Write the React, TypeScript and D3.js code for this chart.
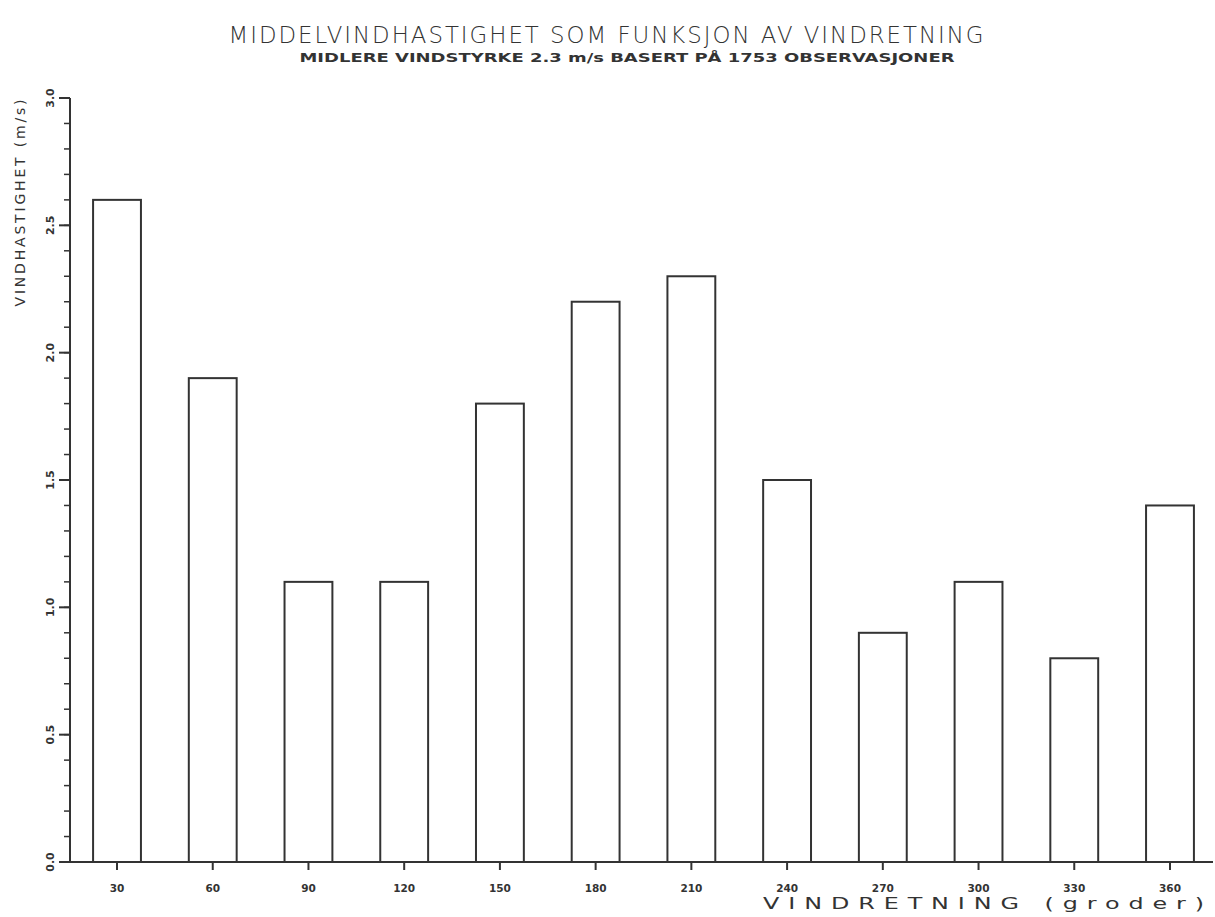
import React from "react";
import * as d3 from "d3";

const directions = ["30", "60", "90", "120", "150", "180", "210", "240", "270", "300", "330", "360"];
const speeds = [2.6, 1.9, 1.1, 1.1, 1.8, 2.2, 2.3, 1.5, 0.9, 1.1, 0.8, 1.4];
const yMajorTicks = [0, 0.5, 1.0, 1.5, 2.0, 2.5, 3.0];
const yMinorTicks = d3.range(0, 31).map((d) => d / 10);

const title = "MIDDELVINDHASTIGHET SOM FUNKSJON AV VINDRETNING";
const subtitle = "MIDLERE VINDSTYRKE 2.3 m/s BASERT PÅ 1753 OBSERVASJONER";
const yTitle = "VINDHASTIGHET  (m/s)";
const xTitle = "VINDRETNING (groder)";

export default function App() {
  const W = 1215;
  const H = 917;
  const x = d3
    .scaleBand<string>()
    .domain(directions)
    .range([69.15, 1217.85])
    .paddingInner(0.5)
    .paddingOuter(0.25);
  const y = d3.scaleLinear().domain([0, 3]).range([862, 98]);
  const ink = "#333";
  const font = "'DejaVu Sans', sans-serif";

  return (
    <svg
      width={W}
      height={H}
      style={{ position: "absolute", left: 0, top: 0, background: "#fff" }}
    >
      <rect x={0} y={0} width={W} height={H} fill="#fff" />
      {/* titles */}
      <text
        x={607}
        y={43}
        textAnchor="middle"
        fontFamily={font}
        fontSize={23}
        fill={ink}
        textLength={757}
        lengthAdjust="spacingAndGlyphs"
        letterSpacing={2}
        style={{ fontWeight: 300 }}
      >
        {title}
      </text>
      <text
        x={627}
        y={62}
        textAnchor="middle"
        fontFamily={font}
        fontSize={12.5}
        fontWeight="bold"
        fill={ink}
        textLength={655}
        lengthAdjust="spacingAndGlyphs"
      >
        {subtitle}
      </text>

      {/* bars */}
      {directions.map((d, i) => (
        <rect
          key={d}
          x={x(d)}
          y={y(speeds[i])}
          width={x.bandwidth()}
          height={y(0) - y(speeds[i])}
          fill="#fff"
          stroke={ink}
          strokeWidth={2}
        />
      ))}

      {/* y axis */}
      <line x1={70} x2={70} y1={y(3)} y2={y(0)} stroke={ink} strokeWidth={2} />
      {yMinorTicks.map((t) => (
        <line
          key={"mi" + t}
          x1={64}
          x2={70}
          y1={y(t)}
          y2={y(t)}
          stroke={ink}
          strokeWidth={1.5}
        />
      ))}
      {yMajorTicks.map((t) => (
        <g key={"ma" + t}>
          <line x1={59} x2={70} y1={y(t)} y2={y(t)} stroke={ink} strokeWidth={2} />
          <text
            transform={`translate(54,${y(t)}) rotate(-90)`}
            textAnchor="middle"
            fontFamily={font}
            fontSize={11}
            fontWeight="bold"
            fill={ink}
          >
            {t.toFixed(1)}
          </text>
        </g>
      ))}
      <text
        transform={`translate(25,${203}) rotate(-90)`}
        textAnchor="middle"
        fontFamily={font}
        fontSize={14}
        fill={ink}
        textLength={207}
        lengthAdjust="spacing"
      >
        {yTitle}
      </text>

      {/* x axis */}
      <line x1={69} x2={1213} y1={y(0)} y2={y(0)} stroke={ink} strokeWidth={2} />
      {directions.map((d) => {
        const cx = (x(d) as number) + x.bandwidth() / 2;
        return (
          <g key={"xt" + d}>
            <line x1={cx} x2={cx} y1={y(0)} y2={y(0) + 8} stroke={ink} strokeWidth={2} />
            <text
              x={cx}
              y={892}
              textAnchor="middle"
              fontFamily={font}
              fontSize={10.5}
              fontWeight="bold"
              fill={ink}
            >
              {d}
            </text>
          </g>
        );
      })}
      <text
        x={1213}
        y={909}
        textAnchor="end"
        fontFamily={font}
        fontSize={16}
        fill={ink}
        textLength={450}
        lengthAdjust="spacingAndGlyphs"
        letterSpacing={6}
      >
        {xTitle}
      </text>
    </svg>
  );
}
